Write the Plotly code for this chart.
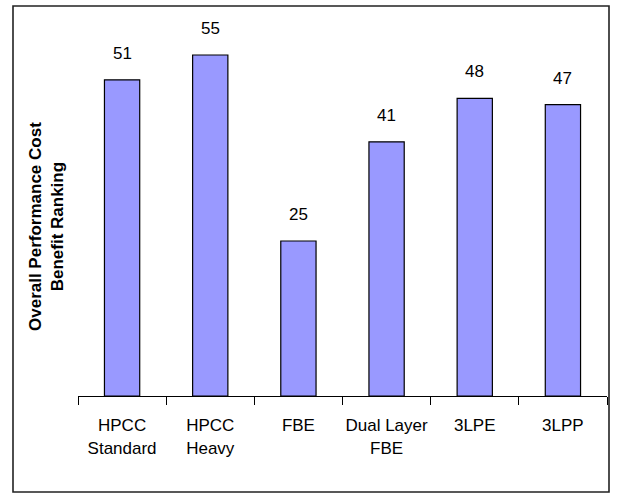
import plotly.graph_objects as go

categories = ["HPCC<br>Standard", "HPCC<br>Heavy", "FBE", "Dual Layer<br>FBE", "3LPE", "3LPP"]
values = [51, 55, 25, 41, 48, 47]
y_title = "Overall Performance Cost<br>Benefit Ranking"

W, H = 620, 497
ML, MR, MT, MB = 78, 13, 24, 101
PW, PH = W - ML - MR, H - MT - MB

font_fam = "Liberation Sans, Arial, sans-serif"

fig = go.Figure()
fig.add_trace(go.Bar(
    x=categories, y=values,
    marker=dict(color="#9999FF", line=dict(color="#000000", width=1.2)),
    width=0.4,
    hoverinfo="skip",
))

for c, v in zip(categories, values):
    fig.add_annotation(x=c, y=v, text=str(v), showarrow=False,
                       yanchor="bottom", yshift=15,
                       font=dict(family=font_fam, size=17, color="black"))

def px_x(p):
    return (p - ML) / PW

def px_y(p):
    return (H - MB - p) / PH

fig.add_annotation(xref="paper", yref="paper", x=px_x(47), y=px_y(227),
                   text=y_title, textangle=-90, showarrow=False,
                   xanchor="center", yanchor="middle",
                   font=dict(family=font_fam, size=17, color="black", weight="bold"))

fig.add_shape(type="rect", xref="paper", yref="paper",
              x0=px_x(13), x1=px_x(609), y0=px_y(492), y1=px_y(6),
              line=dict(color="#222222", width=1.6), layer="below")

fig.update_layout(
    width=W, height=H,
    margin=dict(l=ML, r=MR, t=MT, b=MB, autoexpand=False),
    paper_bgcolor="white", plot_bgcolor="white",
    showlegend=False,
    xaxis=dict(showline=True, linecolor="black", linewidth=1,
               ticks="outside", ticklen=8, tickcolor="black", tickwidth=1,
               tickson="boundaries", showgrid=False, zeroline=False,
               tickangle=0, ticklabelstandoff=14,
               tickfont=dict(family=font_fam, size=17, color="black"),
               range=[-0.5, 5.5], fixedrange=True),
    yaxis=dict(range=[0, 60], visible=False, fixedrange=True),
)

fig.write_html("out.html", config={"displayModeBar": False},
               post_script="document.body.style.margin='0';")
